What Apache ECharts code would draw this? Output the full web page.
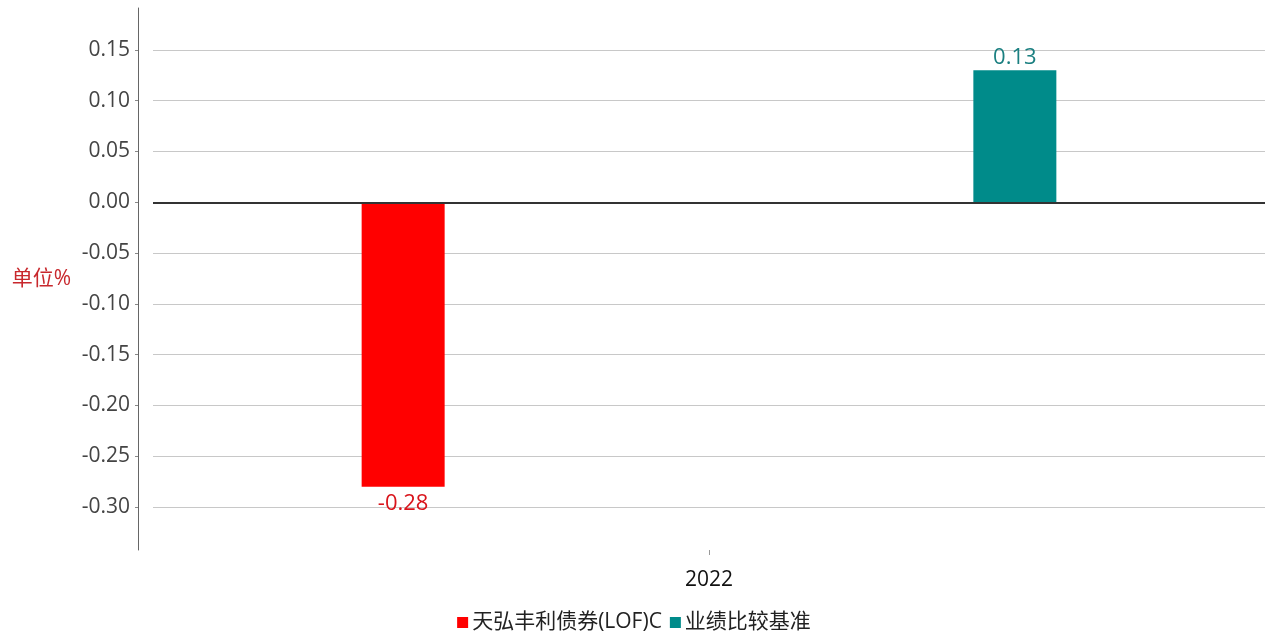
<!DOCTYPE html>
<html>
<head>
<meta charset="utf-8">
<script src="https://cdn.jsdelivr.net/npm/echarts@6/dist/echarts.min.js"></script>
<style>html,body{margin:0;padding:0;background:#fff}#c{width:1268px;height:634px}</style>
</head>
<body>
<div id="c"></div>
<script>
const categories = ['2022'];
const seriesNames = ['天弘丰利债券(LOF)C', '业绩比较基准'];
const fundValues = [-0.28];
const benchValues = [0.13];
const yMin = -0.3424, yMax = 0.1913;

const FONT = "'Open Sans','Noto Sans CJK SC',sans-serif";
const chart = echarts.init(document.getElementById('c'));
chart.setOption({
  animation: false,
  textStyle: { fontFamily: FONT },
  grid: { left: 153, right: 3, top: 8, bottom: 84, containLabel: false },
  legend: {
    bottom: -4, left: 'center', itemWidth: 11, itemHeight: 11, itemGap: 8,
    icon: 'rect',
    textStyle: { fontSize: 21, color: '#222', fontFamily: FONT, padding: [0,0,0,-1] },
    data: seriesNames
  },
  xAxis: {
    type: 'category', data: categories,
    axisLine: { show: false, onZero: false },
    axisTick: { show: true, alignWithLabel: true, length: 5, lineStyle: { color: '#999' } },
    axisLabel: { fontSize: 21, color: '#111', margin: 20, fontFamily: FONT },
    splitLine: { show: false }
  },
  yAxis: {
    type: 'value', min: yMin, max: yMax, splitNumber: 11,
    offset: 15,
    name: '单位%', nameLocation: 'middle', nameRotate: 0, nameGap: 67,
    nameTextStyle: { color: '#c8282d', fontSize: 21, fontFamily: FONT },
    axisLine: { show: true, lineStyle: { color: '#666', width: 1 } },
    axisTick: { show: true, length: 3, lineStyle: { color: '#888' } },
    axisLabel: {
      fontSize: 21, color: '#444', margin: 8, fontFamily: FONT,
      showMinLabel: false, showMaxLabel: false,
      formatter: v => v.toFixed(2)
    },
    splitLine: { show: true, showMinLine: false, showMaxLine: false, lineStyle: { color: '#c8c8c8', width: 1 } }
  },
  series: [
    {
      name: seriesNames[0], type: 'bar', data: fundValues,
      barWidth: 83, barGap: '637%',
      itemStyle: { color: '#ff0000' },
      label: { show: true, position: 'bottom', distance: 6, fontSize: 22, color: '#d9141b', fontFamily: FONT },
      markLine: {
        silent: true, symbol: 'none',
        label: { show: false },
        lineStyle: { color: '#333', width: 2, type: 'solid' },
        data: [{ yAxis: 0 }]
      }
    },
    {
      name: seriesNames[1], type: 'bar', data: benchValues,
      barWidth: 83,
      itemStyle: { color: '#008b8a' },
      label: { show: true, position: 'top', distance: 2, fontSize: 22, color: '#1a7f80', fontFamily: FONT }
    }
  ]
});
</script>
</body>
</html>
